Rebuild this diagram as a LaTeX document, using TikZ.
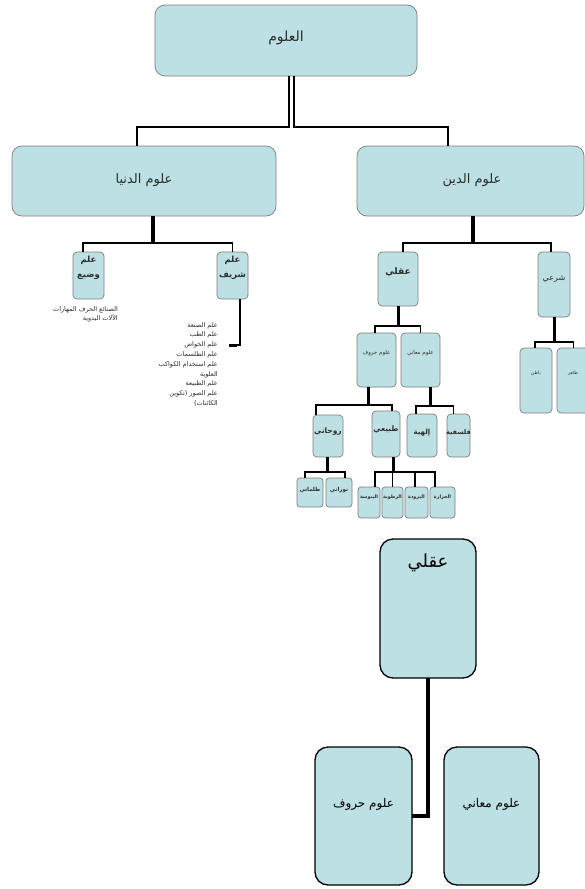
\documentclass[tikz,border=0pt]{standalone}
\usepackage{fontspec}
\newfontfamily\arabicfont[Script=Arabic]{DejaVu Sans}
\TeXXeTstate=1
\usetikzlibrary{fit,calc}
\definecolor{boxfill}{RGB}{188,224,227}
\definecolor{boxline}{RGB}{125,125,125}
\definecolor{txt}{RGB}{45,45,45}
\newcommand{\ar}[1]{\beginR #1\endR}
\newcommand{\fs}[2]{\fontsize{#1}{#2}\selectfont}

\begin{document}
\begin{tikzpicture}[x=1pt,y=-1pt,
  box/.style={draw=boxline, fill=boxfill, line width=0.7pt, rounded corners=#1, inner sep=0pt, outer sep=0pt},
  box/.default=4pt,
  bigbox/.style={draw=black, fill=boxfill, line width=1.3pt, rounded corners=13pt, inner sep=0pt, outer sep=0pt},
  link/.style={draw=black, line width=1.6pt},
  heavylink/.style={draw=black, line width=3pt},
  biglink/.style={draw=black, line width=4.5pt},
  lbl/.style={text=txt, inner sep=0pt, align=center},
  biglbl/.style={text=black, inner sep=0pt, align=center, font=\arabicfont\fs{12}{14}},
]
\useasboundingbox (0,0) rectangle (585,889);
\fill[white] (0,0) rectangle (585,889);
\clip (0,0) rectangle (585,889);

% ---- upper chart: boxes
\node[box=10pt, fit={(155,5)(417,76)}] (ulum) {};
\node[box=10pt, fit={(12,146)(276,216)}] (dunya) {};
\node[box=10pt, fit={(357,146)(584,216)}] (din) {};
\node[box, fit={(73,252)(104,299)}] (wadi) {};
\node[box, fit={(217,252)(248,299)}] (sharif) {};
\node[box, fit={(378,252)(418,306)}] (aqli) {};
\node[box, fit={(538,252)(570,317)}] (shari) {};
\node[box, fit={(357,333)(396,387)}] (huruf) {};
\node[box, fit={(401,333)(440,387)}] (maani) {};
\node[box, fit={(520,348)(552,413)}] (batin) {};
\node[box, fit={(557,348)(590,413)}] (zahir) {};
\node[box, fit={(313,415)(343,457)}] (ruh) {};
\node[box, fit={(372,411)(400,457)}] (tabi) {};
\node[box, fit={(407,414)(437,457)}] (ilah) {};
\node[box, fit={(447,414)(470,457)}] (falsaf) {};
\node[box=3pt, fit={(297,478)(323,507)}] (zulm) {};
\node[box=3pt, fit={(326,478)(352,507)}] (nur) {};
\node[box=3pt, fit={(358,487)(380,518)}] (yab) {};
\node[box=3pt, fit={(382,487)(403,518)}] (rat) {};
\node[box=3pt, fit={(405,487)(428,518)}] (bar) {};
\node[box=3pt, fit={(430,487)(455,518)}] (har) {};

% ---- upper chart: labels
\node[lbl, font=\arabicfont\fs{14}{16}] (t-ulum) at (286,38) {\ar{العلوم}};
\node[lbl, font=\arabicfont\fs{13}{15}] (t-dunya) at (144,180) {\ar{علوم الدنيا}};
\node[lbl, font=\arabicfont\fs{13}{15}] (t-din) at (472,180) {\ar{علوم الدين}};
\node[lbl, font=\arabicfont\bfseries\fs{8.5}{15}] (t-wadi) at (88.5,268) {\ar{علم}\\\ar{وضيع}};
\node[lbl, font=\arabicfont\bfseries\fs{8.5}{15}] (t-sharif) at (232.5,268) {\ar{علم}\\\ar{شريف}};
\node[lbl, font=\arabicfont\bfseries\fs{9}{11}] (t-aqli) at (398,272) {\ar{عقلي}};
\node[lbl, font=\arabicfont\fs{8}{10}] (t-shari) at (554,279) {\ar{شرعي}};
\node[lbl, font=\arabicfont\fs{5.5}{7}] (t-huruf) at (376.5,353) {\ar{علوم حروف}};
\node[lbl, font=\arabicfont\fs{5.5}{7}] (t-maani) at (420.5,353) {\ar{علوم معاني}};
\node[lbl, font=\arabicfont\fs{4.5}{6}] (t-batin) at (536,373) {\ar{باطن}};
\node[lbl, font=\arabicfont\fs{4.5}{6}] (t-zahir) at (573,373) {\ar{ظاهر}};
\node[lbl, font=\arabicfont\bfseries\fs{7.5}{9}] (t-ruh) at (328,432) {\ar{روحاني}};
\node[lbl, font=\arabicfont\bfseries\fs{7.5}{9}] (t-tabi) at (386,430) {\ar{طبيعي}};
\node[lbl, font=\arabicfont\bfseries\fs{7}{9}] (t-ilah) at (422,433) {\ar{إلهية}};
\node[lbl, font=\arabicfont\bfseries\fs{6.5}{8}] (t-falsaf) at (458.5,433) {\ar{فلسفية}};
\node[lbl, font=\arabicfont\bfseries\fs{5.5}{7}] (t-zulm) at (310,490) {\ar{ظلماني}};
\node[lbl, font=\arabicfont\bfseries\fs{5.5}{7}] (t-nur) at (339,490) {\ar{نوراني}};
\node[lbl, font=\arabicfont\bfseries\fs{4.8}{6}] (t-yab) at (369,497) {\ar{اليبوسة}};
\node[lbl, font=\arabicfont\bfseries\fs{4.8}{6}] (t-rat) at (392.5,497) {\ar{الرطوبة}};
\node[lbl, font=\arabicfont\bfseries\fs{4.8}{6}] (t-bar) at (416.5,497) {\ar{البرودة}};
\node[lbl, font=\arabicfont\bfseries\fs{4.8}{6}] (t-har) at (442.5,497) {\ar{الحرارة}};

% free-standing text lists
\node[lbl, anchor=north east, align=right, font=\arabicfont\fs{6.5}{9}] (wadilist) at (118,306)
  {\ar{الصنائع الحرف المهارات}\\\ar{الآلات اليدوية}};
\node[lbl, anchor=north east, align=right, font=\arabicfont\fs{6.5}{9.8}] (sharlist) at (218,322)
  {\ar{علم الصنعة}\\\ar{علم الطب}\\\ar{علم الخواص}\\\ar{علم الطلسمات}\\\ar{علم استخدام الكواكب}\\\ar{العلوية}\\\ar{علم الطبيعة}\\\ar{علم الصور (تكوين}\\\ar{الكائنات)}};

% ---- upper chart: connectors
\draw[link] ([xshift=3pt]ulum.south) -- ++(0,51) -| ([xshift=-7pt]dunya.north);
\draw[link] ([xshift=8pt]ulum.south) -- ++(0,51) -| ([xshift=-22.5pt]din.north);

\draw[link] ([xshift=8pt]dunya.south) -- ++(0,27) -| ([xshift=-5.5pt]wadi.north);
\draw[link] ([xshift=10pt]dunya.south) -- ++(0,27) -| (sharif.north);
\coordinate (listtip) at (229,345);
\draw[link, line width=1.3pt] ([xshift=7.5pt]sharif.south) |- (listtip);
\draw[heavylink] (listtip) -- ++(8,0);

\draw[link] ([xshift=1.5pt]din.south) -- ++(0,27) -| ([xshift=5pt]aqli.north);
\draw[link] ([xshift=3.5pt]din.south) -- ++(0,27) -| ([xshift=-3pt]shari.north);

\draw[heavylink] (aqli.south) -- ++(0,20) coordinate (aj);
\draw[link] (aj) -| ([xshift=-1.5pt]huruf.north);
\draw[link] (aj) -| (maani.north);

\draw[heavylink] (shari.south) -- ++(0,25) coordinate (sj);
\draw[link] (sj) -| ([xshift=-1pt]batin.north);
\draw[link] (sj) -| (zahir.north);

\draw[heavylink] ([xshift=-8.5pt]huruf.south) -- ++(0,18) coordinate (hj);
\draw[link] (hj) -| ([xshift=-12pt]ruh.north);
\draw[link] (hj) -| ([xshift=6pt]tabi.north);

\draw[heavylink] ([xshift=9.5pt]maani.south) -- ++(0,19) coordinate (mj);
\draw[link] (mj) -| ([xshift=-6pt]ilah.north);
\draw[link] (mj) -| ([xshift=-5pt]falsaf.north);

\draw[heavylink] ([xshift=-1pt]ruh.south) -- ++(0,15) coordinate (rj);
\draw[link] (rj) -| ([xshift=-5pt]zulm.north);
\draw[link] (rj) -| ([xshift=6pt]nur.north);

\draw[heavylink] ([xshift=7pt]tabi.south) -- ++(0,15) coordinate (tj);
\draw[link] (tj) -| ([xshift=6pt]yab.north);
\draw[link] (tj) -| (rat.north);
\draw[link] (tj) -| ([xshift=-1.5pt]bar.north);
\draw[link] (tj) -| ([xshift=-7.5pt]har.north);

% ---- lower chart
\node[bigbox, fit={(380,539)(476,678)}] (baqli) {};
\node[bigbox, fit={(315,747)(412,885)}] (bhuruf) {};
\node[bigbox, fit={(444,747)(539,885)}] (bmaani) {};
\node[biglbl, font=\arabicfont\fs{18}{20}] (t-baqli) at (428,563) {\ar{عقلي}};
\node[biglbl] (t-bhuruf) at (363.5,804) {\ar{علوم حروف}};
\node[biglbl] (t-bmaani) at (491.5,804) {\ar{علوم معاني}};
\draw[biglink] (baqli.south) |- (bhuruf.east);
\end{tikzpicture}
\end{document}
